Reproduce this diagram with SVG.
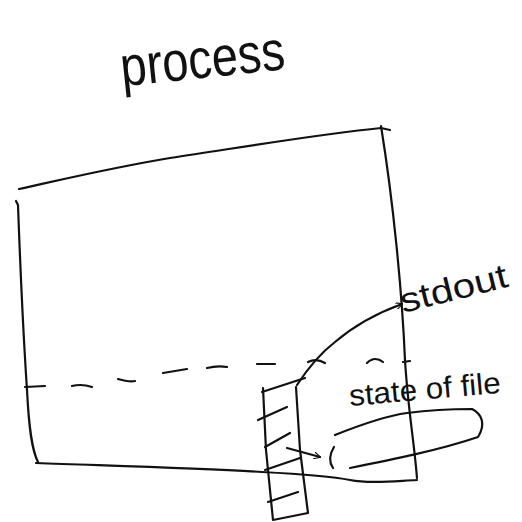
<svg xmlns="http://www.w3.org/2000/svg" width="522" height="522" viewBox="0 0 522 522">
<style>
.s{fill:none;stroke:#111;stroke-width:2.2;stroke-linecap:round;stroke-linejoin:round}
.t{font-family:"Liberation Sans","DejaVu Sans",sans-serif;fill:#111}
</style>
<defs>
<marker id="ah" viewBox="0 0 10 10" refX="9" refY="5" markerWidth="7" markerHeight="7" orient="auto" markerUnits="userSpaceOnUse">
<path d="M0,0 L10,5 L0,10" fill="none" stroke="#111" stroke-width="1.6"/>
</marker>
</defs>
<rect width="522" height="522" fill="#fff"/>
<text class="t" x="120" y="78" font-size="56" textLength="165" lengthAdjust="spacingAndGlyphs" transform="rotate(-6 200 60)">process</text>
<g id="process">
<path class="s" d="M19,189 C60,180 110,168 170,158 C250,146 320,134 381,128 L390,130"/>
<path class="s" d="M16,201 L18,205 C20,260 23,330 27,390 C29,430 32,450 38,462"/>
<path class="s" d="M381,126 C393,200 402,290 405,360 C408,410 414,440 417,478"/>
<path class="s" d="M36,463 C120,466 200,468 262,472 C300,474 330,476 350,480 C370,484 395,481 417,480"/>
</g>
<g id="dashes">
<path class="s" d="M25,387 L45,386 M72,386 C80,384 86,385 92,387 M118,379 C125,381 130,382 135,381 M163,373 L187,369 M207,368 C215,366 220,366 227,367 M257,364 L275,364 M308,362 C314,359 320,360 325,363 M403,362 L410,361"/>
</g>
<g id="buffer">
<path class="s" d="M263,388 L266,450 L273,520 L308,513 L300,450 L296,387"/>
<path class="s" d="M262,392 L305,378 M258,420 L287,407 M265,447 L290,433 M265,470 L300,458 M268,502 L298,492"/>
</g>
<g id="stdout">
<text class="t" x="403" y="313" font-size="34" textLength="110" lengthAdjust="spacingAndGlyphs" transform="rotate(-14 403 313)">stdout</text>
</g>
<g id="state-of-file">
<text class="t" x="350" y="406" font-size="30" textLength="152" lengthAdjust="spacingAndGlyphs" transform="rotate(-5 350 406)">state of file</text>
<path class="s" d="M367,363 C372,358 378,358 383,362"/>
<path class="s" d="M335,435 C360,425 385,416 407,413 C430,410 450,409 472,409 C482,414 486,424 478,437 C440,450 390,460 350,468"/>
<path class="s" d="M334,447 C329,455 329,462 333,468"/>
</g>
<g id="connectors">
<path class="s" d="M297,385 C310,365 322,352 335,342 C355,325 380,312 402,304" marker-end="url(#ah)"/>
<path class="s" d="M287,448 L320,457" marker-end="url(#ah)"/>
</g>
</svg>
